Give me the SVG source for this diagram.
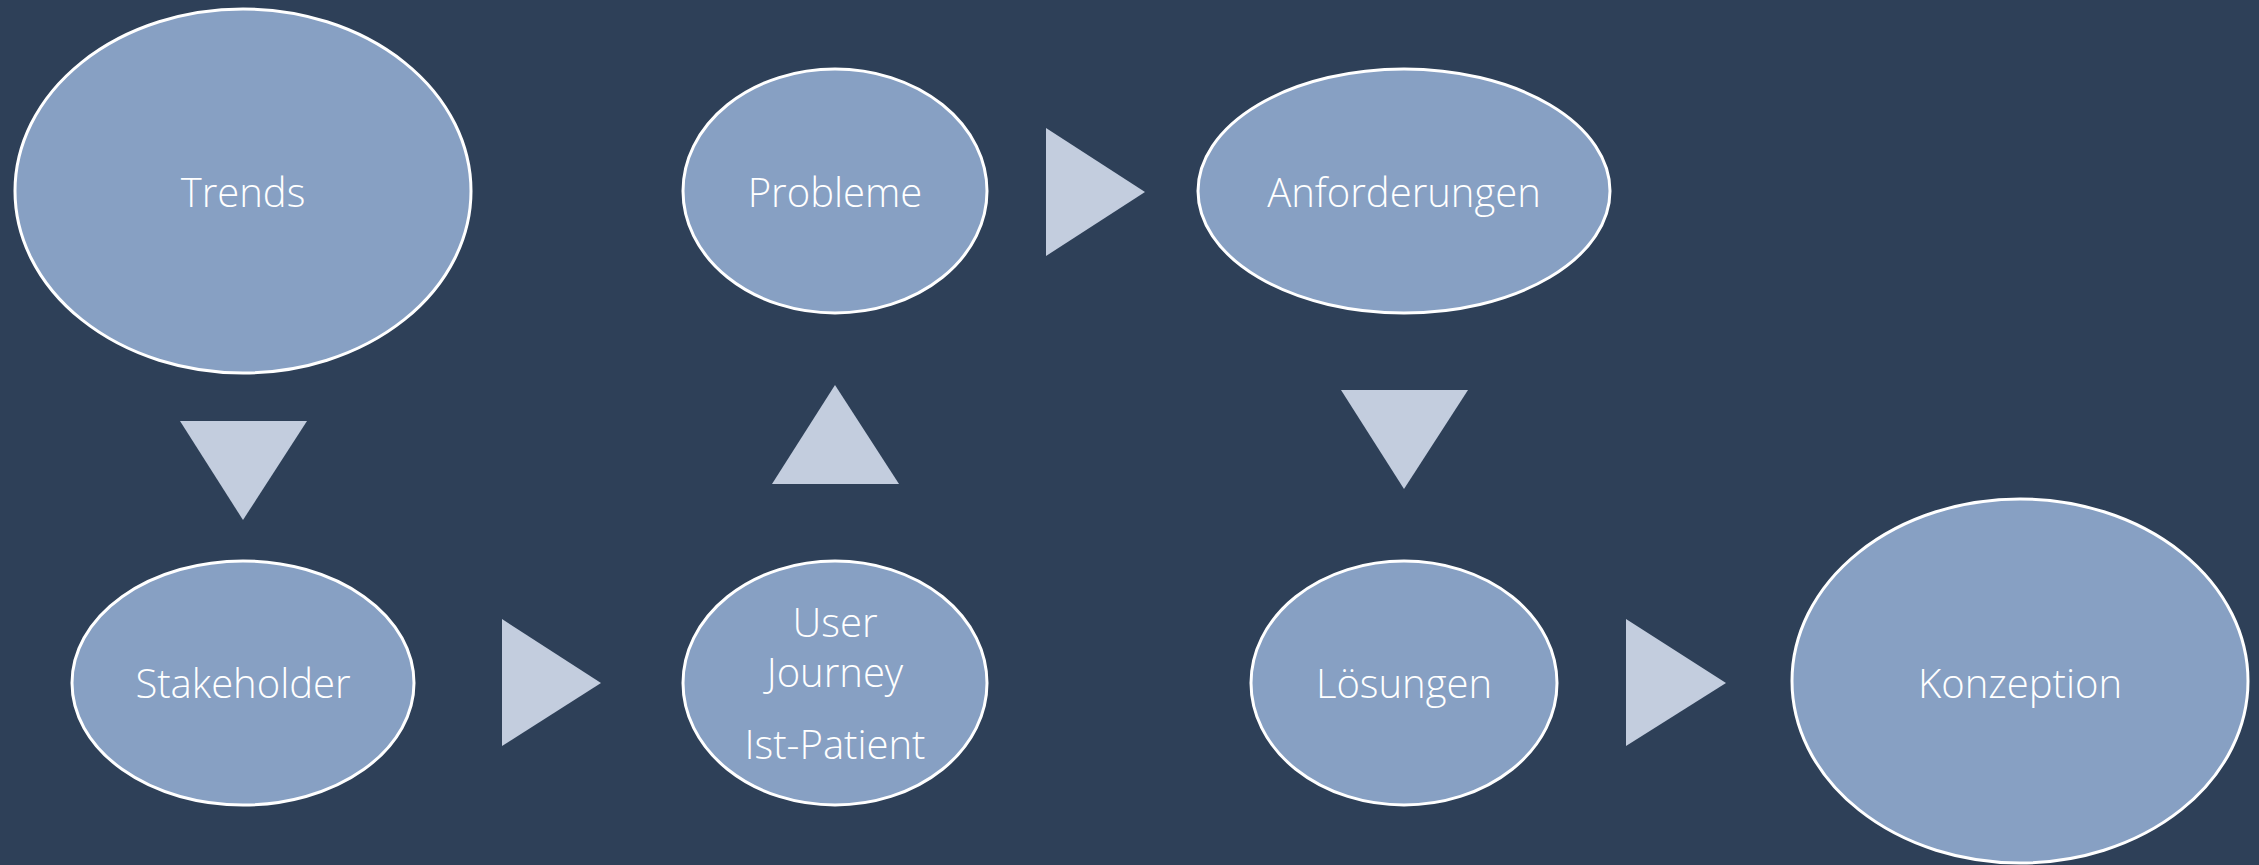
<svg xmlns="http://www.w3.org/2000/svg" width="2259" height="865" viewBox="0 0 2259 865">
<style>
.node ellipse{fill:#87A0C3;stroke:#FFFFFF;stroke-width:3}
.node text{fill:#FFFFFF;font-family:"Open Sans","Noto Sans","Liberation Sans",sans-serif;font-weight:300;font-size:40px;text-anchor:middle}
.arrow{fill:#C3CDDE}
</style>
<rect x="0" y="0" width="2259" height="865" fill="#2E4058"/>
<g id="trends" class="node"><ellipse cx="243" cy="191" rx="228" ry="182"/><text x="243" y="207">Trends</text></g>
<g id="probleme" class="node"><ellipse cx="835" cy="191" rx="152" ry="122"/><text x="835" y="207">Probleme</text></g>
<g id="anforderungen" class="node"><ellipse cx="1404" cy="191" rx="206" ry="122"/><text x="1404" y="207">Anforderungen</text></g>
<g id="stakeholder" class="node"><ellipse cx="243" cy="683" rx="171" ry="122"/><text x="243" y="698">Stakeholder</text></g>
<g id="userjourney" class="node"><ellipse cx="835" cy="683" rx="152" ry="122"/><text x="835" y="637">User</text><text x="835" y="687">Journey</text><text x="835" y="759">Ist-Patient</text></g>
<g id="loesungen" class="node"><ellipse cx="1404" cy="683" rx="153" ry="122"/><text x="1404" y="698">Lösungen</text></g>
<g id="konzeption" class="node"><ellipse cx="2020" cy="681" rx="228" ry="182"/><text x="2020" y="698">Konzeption</text></g>
<g id="connectors">
<polygon class="arrow" points="180,421 307,421 243,520"/>
<polygon class="arrow" points="502,619 502,746 601,683"/>
<polygon class="arrow" points="772,484 899,484 835,385"/>
<polygon class="arrow" points="1046,128 1046,256 1145,192"/>
<polygon class="arrow" points="1341,390 1468,390 1404,489"/>
<polygon class="arrow" points="1626,619 1626,746 1726,683"/>
</g>
</svg>
